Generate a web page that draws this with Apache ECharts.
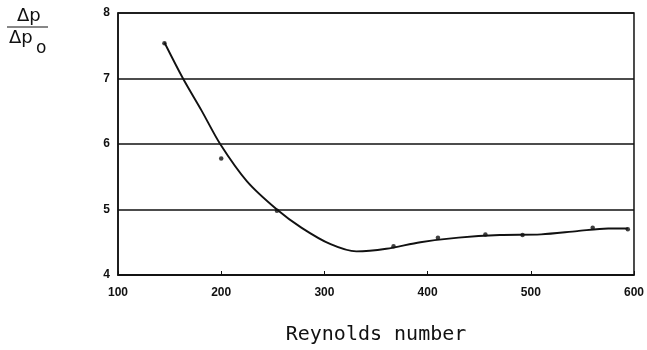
<!DOCTYPE html>
<html>
<head>
<meta charset="utf-8">
<script src="https://cdn.jsdelivr.net/npm/echarts@6/dist/echarts.min.js"></script>
<style>
  html, body { margin: 0; padding: 0; background: #fff; }
  #chart { width: 647px; height: 350px; }
</style>
</head>
<body>
<div id="chart"></div>
<script>
// measured points (Reynolds number, dp/dp0)
const measuredRe = [145, 200, 254, 367, 410, 456, 492, 560, 594];
const measuredRatio = [7.54, 5.78, 4.98, 4.44, 4.57, 4.62, 4.61, 4.72, 4.70];

// hand-drawn fitted curve
const curveRe = [145, 163, 181, 199, 225, 254, 278, 306, 331, 360, 393, 430, 470, 510, 545, 575, 594];
const curveRatio = [7.55, 7.0, 6.51, 6.0, 5.43, 5.0, 4.72, 4.47, 4.36, 4.40, 4.50, 4.57, 4.61, 4.62, 4.67, 4.71, 4.71];

const xTicks = [100, 200, 300, 400, 500, 600];
const yTicks = [4, 5, 6, 7, 8];

function drawPressureChart (domId) {
    const chart = echarts.init(document.getElementById(domId));
    const ink = "#111";
    const option = {
        animation: false,
        grid: {
            left: 118,
            right: 13,
            top: 13,
            bottom: 73,
            show: true,
            borderColor: ink,
            borderWidth: 1.5
        },
        xAxis: {
            type: "value",
            min: xTicks[0],
            max: xTicks[xTicks.length - 1],
            interval: 100,
            axisLine: { lineStyle: { color: ink, width: 1.5 } },
            axisTick: { show: true, inside: true, length: 4, lineStyle: { color: ink } },
            axisLabel: {
                color: ink,
                fontFamily: "Liberation Sans",
                fontWeight: "bold",
                fontSize: 12,
                margin: 12
            },
            splitLine: { show: false },
            name: "Reynolds number",
            nameLocation: "middle",
            nameGap: 50,
            nameTextStyle: {
                color: ink,
                fontFamily: "DejaVu Sans Mono",
                fontSize: 20
            }
        },
        yAxis: {
            type: "value",
            min: yTicks[0],
            max: yTicks[yTicks.length - 1],
            interval: 1,
            axisLine: { show: true, lineStyle: { color: ink, width: 1.5 } },
            axisTick: { show: false },
            axisLabel: {
                color: ink,
                fontFamily: "Liberation Sans",
                fontWeight: "bold",
                fontSize: 12,
                margin: 8
            },
            splitLine: { show: true, lineStyle: { color: ink, width: 1.5 } }
        },
        graphic: [
            {
                type: "text",
                left: 17,
                top: 7,
                style: { text: "Δp", fontFamily: "DejaVu Sans", fontSize: 18, fill: ink }
            },
            {
                type: "line",
                shape: { x1: 7, y1: 27, x2: 48, y2: 27 },
                style: { stroke: ink, lineWidth: 1.2 }
            },
            {
                type: "text",
                left: 9,
                top: 29,
                style: { text: "Δp", fontFamily: "DejaVu Sans", fontSize: 18, fill: ink }
            },
            {
                type: "text",
                left: 36,
                top: 40,
                style: { text: "o", fontFamily: "DejaVu Sans", fontSize: 17, fill: ink }
            }
        ],
        series: [
            {
                type: "line",
                data: curveRe.map((x, i) => [x, curveRatio[i]]),
                smooth: 0.3,
                symbol: "none",
                lineStyle: { color: ink, width: 1.9 },
                z: 3
            },
            {
                type: "scatter",
                data: measuredRe.map((x, i) => [x, measuredRatio[i]]),
                symbolSize: 4.5,
                itemStyle: { color: ink },
                z: 4
            }
        ]
    };
    chart.setOption(option);
    return chart;
}

drawPressureChart("chart");
</script>
</body>
</html>
